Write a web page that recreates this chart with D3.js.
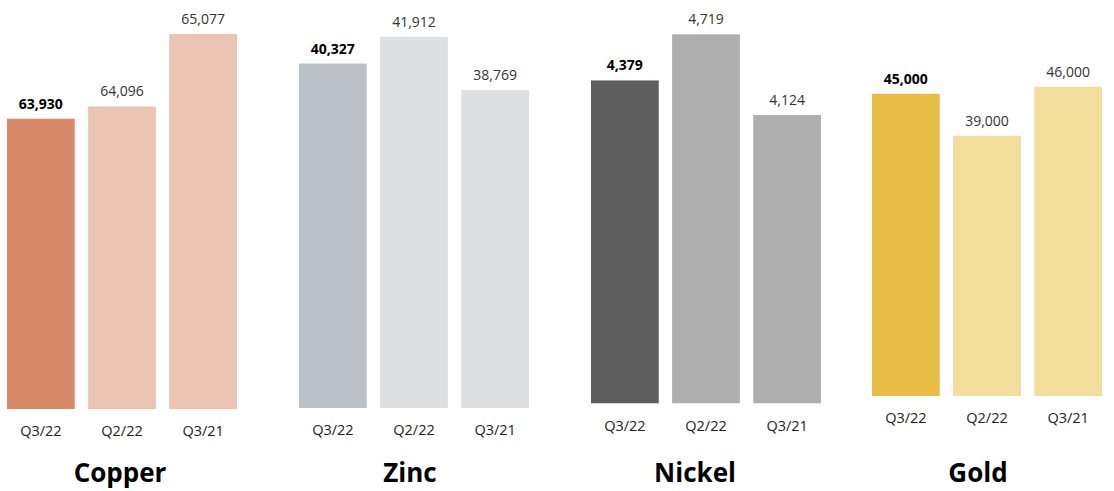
<!DOCTYPE html>
<html>
<head>
<meta charset="utf-8">
<script src="https://cdn.jsdelivr.net/npm/d3@7"></script>
<style>
    body { margin: 0; background: #fff; }
    svg { display: block; font-family: "Open Sans", sans-serif; }
</style>
</head>
<body>
<script>
// data
let metals = ["Copper", "Zinc", "Nickel", "Gold"];
let periods = ["Q3/22", "Q2/22", "Q3/21"];
let copperValues = [63930, 64096, 65077];
let zincValues = [40327, 41912, 38769];
let nickelValues = [4379, 4719, 4124];
let goldValues = [45000, 39000, 46000];
let seriesValues = [copperValues, zincValues, nickelValues, goldValues];
// bottom of each panel's value axis (bars do not start at zero)
let axisFloor = [60000, 20000, 2000, 2000];

// colours: first bar highlighted, the others lighter
let mainColors = ["#d98a68", "#bac1c8", "#5d5e5d", "#e8bd45"];
let lightColors = ["#ebc4b3", "#dce0e3", "#aeaeae", "#f3dd9d"];

// layout of each panel
let panels = [
    { x0: 7, base: 409, top: 34, titleX: 120 },
    { x0: 299, base: 408, top: 36.7, titleX: 410 },
    { x0: 591, base: 403.3, top: 34.3, titleX: 695 },
    { x0: 872, base: 396, top: 86.7, titleX: 978 }
];
let width = 1114;
let height = 491;
let panelWidth = 230;
let fmt = d3.format(",");

let svg = d3.select("body")
    .append("svg")
    .attr("width", width)
    .attr("height", height);

metals.forEach((metal, i) => {
    let p = panels[i];
    let values = seriesValues[i];

    let xScale = d3.scaleBand()
        .domain(periods)
        .range([p.x0, p.x0 + panelWidth])
        .paddingInner(0.165)
        .paddingOuter(0);

    let yScale = d3.scaleLinear()
        .domain([axisFloor[i], d3.max(values)])
        .range([p.base, p.top]);

    let g = svg.append("g");

    // bars
    g.selectAll("rect")
        .data(values)
        .enter()
        .append("rect")
        .attr("x", (d, j) => xScale(periods[j]))
        .attr("y", (d) => yScale(d))
        .attr("width", xScale.bandwidth())
        .attr("height", (d) => p.base - yScale(d))
        .attr("fill", (d, j) => j === 0 ? mainColors[i] : lightColors[i]);

    // value labels
    g.selectAll("text.value")
        .data(values)
        .enter()
        .append("text")
        .attr("class", "value")
        .text((d) => fmt(d))
        .attr("x", (d, j) => xScale(periods[j]) + xScale.bandwidth() / 2)
        .attr("y", (d) => yScale(d) - 10)
        .attr("text-anchor", "middle")
        .attr("font-size", "14px")
        .attr("font-weight", (d, j) => j === 0 ? "bold" : "normal")
        .attr("fill", (d, j) => j === 0 ? "#000" : "#333");

    // period labels
    let axis = g.append("g")
        .attr("transform", "translate(0," + p.base + ")")
        .call(d3.axisBottom(xScale).tickSize(0).tickPadding(17));
    axis.select(".domain").remove();
    axis.selectAll("text")
        .attr("font-family", "Open Sans, sans-serif")
        .attr("font-size", "14.5px")
        .attr("fill", "#222");

    // metal title
    svg.append("text")
        .text(metal)
        .attr("x", p.titleX)
        .attr("y", 482)
        .attr("text-anchor", "middle")
        .attr("font-size", "26px")
        .attr("font-weight", "bold")
        .attr("fill", "#000");
});
</script>
</body>
</html>
